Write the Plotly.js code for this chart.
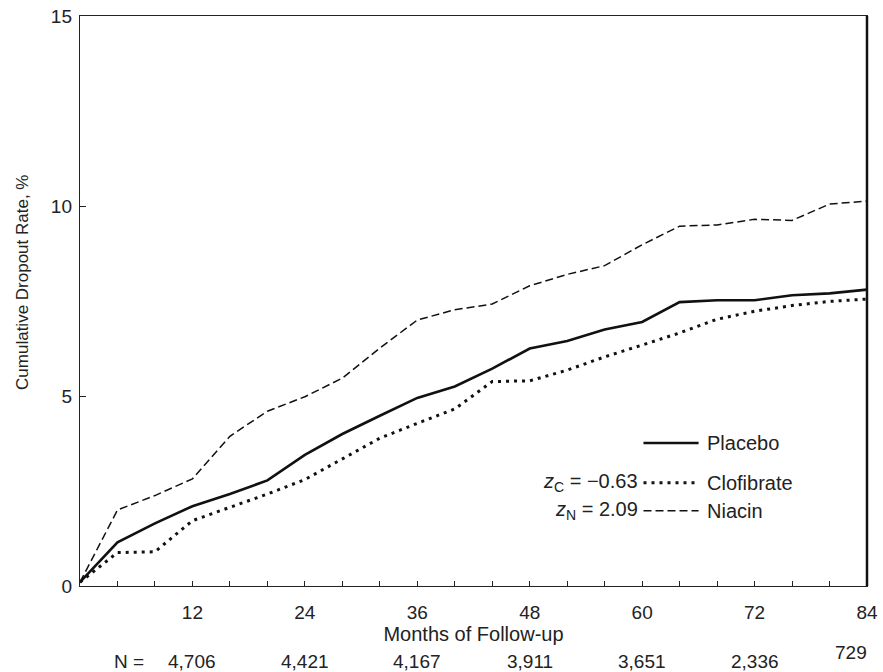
<!DOCTYPE html>
<html>
<head>
<meta charset="utf-8">
<script src="https://cdn.plot.ly/plotly-3.0.1.min.js"></script>
<style>
  html, body { margin: 0; padding: 0; background: #fff; }
  #chart { width: 883px; height: 672px; }
</style>
</head>
<body>
<div id="chart"></div>
<script>
// ---- data ----
const months = [0, 4, 8, 12, 16, 20, 24, 28, 32, 36, 40, 44, 48, 52, 56, 60, 64, 68, 72, 76, 80, 84];
const placebo = [0.1, 1.15, 1.65, 2.1, 2.42, 2.78, 3.45, 4.0, 4.48, 4.95, 5.25, 5.72, 6.25, 6.45, 6.75, 6.95, 7.47, 7.52, 7.52, 7.65, 7.7, 7.8];
const clofibrate = [0.1, 0.88, 0.9, 1.72, 2.07, 2.42, 2.8, 3.35, 3.89, 4.28, 4.66, 5.38, 5.4, 5.68, 6.03, 6.34, 6.66, 7.02, 7.23, 7.38, 7.49, 7.55];
const niacin = [0.1, 2.0, 2.38, 2.82, 3.94, 4.6, 4.98, 5.47, 6.26, 7.0, 7.27, 7.42, 7.9, 8.2, 8.43, 8.98, 9.47, 9.5, 9.65, 9.62, 10.05, 10.13];

const seriesNames = ['Placebo', 'Clofibrate', 'Niacin'];
const zLabels = ['', '<i>z</i><sub>C</sub> = \u22120.63', '<i>z</i><sub>N</sub> = 2.09'];

const xTickVals = [12, 24, 36, 48, 60, 72, 84];
const xTickText = ['12', '24', '36', '48', '60', '72', '84'];
const yTickVals = [0, 5, 10, 15];
const yTickText = ['0', '5', '10', '15'];

const nLabel = 'N =';
const nValues = ['4,706', '4,421', '4,167', '3,911', '3,651', '2,336', '729'];

// ---- layout helpers (positions only) ----
const nMonthPos = [12, 24, 36, 48, 60, 72, 82.3];
const nYShift = [0, 0, 0, 0, 0, 0, 9];
const legendRowsY = [0.251, 0.181, 0.132];
const lineStyles = [
  {color: '#111', width: 2.6, dash: 'solid'},
  {color: '#111', width: 3, dash: '3px,5px'},
  {color: '#111', width: 1.5, dash: '8px,4px'}
];

const ink = '#222';
const font = 'Liberation Sans, Arial, Helvetica, sans-serif';
const valueSets = [placebo, clofibrate, niacin];

const traces = valueSets.map((vals, i) => ({
  type: 'scatter',
  mode: 'lines',
  x: months,
  y: vals,
  name: seriesNames[i],
  line: lineStyles[i],
  showlegend: false,
  hoverinfo: 'x+y+name'
}));

const shapes = [];
const annotations = [];

// custom legend
legendRowsY.forEach((yy, i) => {
  shapes.push({
    type: 'line', xref: 'paper', yref: 'paper',
    x0: 0.716, x1: 0.786, y0: yy, y1: yy,
    line: lineStyles[i]
  });
  annotations.push({
    xref: 'paper', yref: 'paper', x: 0.794, y: yy,
    xanchor: 'left', yanchor: 'middle', showarrow: false,
    text: seriesNames[i], font: {family: font, size: 20, color: ink}
  });
  if (zLabels[i]) {
    annotations.push({
      xref: 'paper', yref: 'paper', x: 0.712, y: yy,
      xanchor: 'right', yanchor: 'middle', showarrow: false,
      text: zLabels[i], font: {family: font, size: 20, color: ink}
    });
  }
});

// right frame edge (heavier)
shapes.push({
  type: 'line', xref: 'paper', yref: 'paper',
  x0: 1, x1: 1, y0: 0, y1: 1,
  line: {color: '#111', width: 2.5}
});

// y-axis title
annotations.push({
  xref: 'paper', yref: 'paper', x: -0.074, y: 0.533,
  xanchor: 'center', yanchor: 'middle', textangle: -90, showarrow: false,
  text: 'Cumulative Dropout Rate, %', font: {family: font, size: 17, color: ink}
});

// N row
annotations.push({
  xref: 'paper', yref: 'paper', x: 0.062, y: -0.1316,
  xanchor: 'center', yanchor: 'middle', showarrow: false,
  text: nLabel, font: {family: font, size: 19, color: ink}
});
nValues.forEach((v, i) => {
  annotations.push({
    xref: 'x', yref: 'paper', x: nMonthPos[i], y: -0.1316, yshift: nYShift[i],
    xanchor: 'center', yanchor: 'middle', showarrow: false,
    text: v, font: {family: font, size: 19, color: ink}
  });
});

const layout = {
  width: 883, height: 672,
  margin: {l: 80, r: 16, t: 16, b: 86},
  paper_bgcolor: '#fff', plot_bgcolor: '#fff',
  font: {family: font, color: ink},
  showlegend: false,
  xaxis: {
    range: [0, 84],
    tickmode: 'array', tickvals: xTickVals, ticktext: xTickText,
    ticks: 'inside', ticklen: 5, tickwidth: 1.3, tickcolor: '#222',
    minor: {dtick: 4, tick0: 0, ticks: 'inside', ticklen: 5, tickwidth: 1.3, tickcolor: '#222', showgrid: false},
    showline: true, linecolor: '#222', linewidth: 1.4, mirror: true,
    showgrid: false, zeroline: false,
    ticklabelstandoff: 9,
    tickfont: {family: font, size: 19, color: ink},
    title: {text: 'Months of Follow-up', font: {family: font, size: 20, color: ink}, standoff: 2}
  },
  yaxis: {
    range: [0, 15],
    tickmode: 'array', tickvals: yTickVals, ticktext: yTickText,
    ticks: 'inside', ticklen: 6, tickwidth: 1.3, tickcolor: '#222',
    showline: true, linecolor: '#222', linewidth: 1.4, mirror: true,
    showgrid: false, zeroline: false,
    ticklabelstandoff: 3,
    tickfont: {family: font, size: 19, color: ink}
  },
  shapes: shapes,
  annotations: annotations
};

Plotly.newPlot('chart', traces, layout, {displayModeBar: false, responsive: false});
</script>
</body>
</html>
